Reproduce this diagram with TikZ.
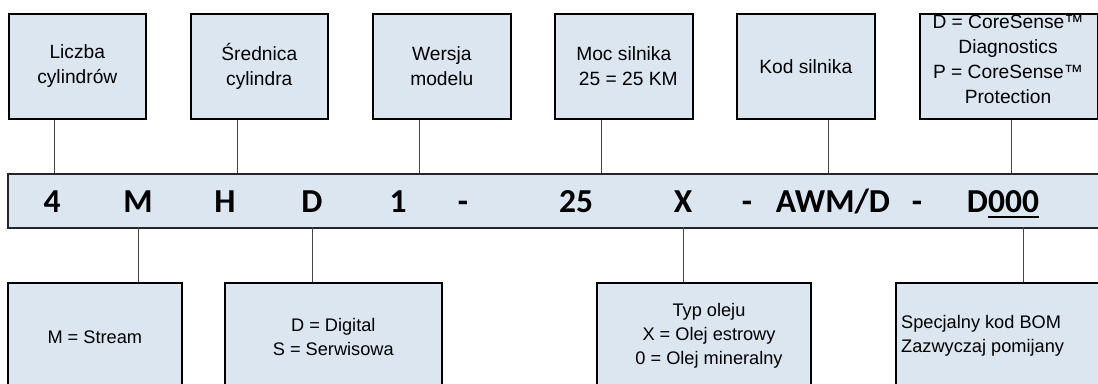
\documentclass[tikz,border=0pt]{standalone}
\usepackage{fontspec}
\setmainfont{Liberation Sans}
\newfontfamily\codefont{Carlito}
\definecolor{boxfill}{RGB}{220,230,241}
\definecolor{linkgray}{RGB}{70,70,70}
% underline drawn a little below the baseline, as in the code strip
\newcommand\codeul[1]{\setbox0\hbox{#1}\rlap{\rule[-5.5pt]{\wd0}{2pt}}\box0}
\tikzset{
  infobox/.style={draw=black, line width=1.6pt, fill=boxfill, inner sep=0pt,
    anchor=north west, align=center},
  toptext/.style={font=\fontsize{19.2}{25}\selectfont},
  bottext/.style={font=\fontsize{18.2}{24}\selectfont},
  strip/.style={draw=black!85, line width=1.6pt, fill=boxfill, inner sep=0pt, anchor=north west},
  code/.style={font=\codefont\bfseries\fontsize{33.5}{36}\selectfont, anchor=base, inner sep=0pt},
  link/.style={draw=linkgray, line width=0.9pt},
}
\begin{document}
\begin{tikzpicture}[x=1pt,y=-1pt]
  \useasboundingbox (0,0) rectangle (1098,383);
  \fill[white] (0,0) rectangle (1098,383);
  \clip (0,0) rectangle (1098,383);

  % code strip
  \node[strip, minimum width=1110pt, minimum height=54pt] (bar) at (7,173) {};
  \node[code] (l4)   at (52,212)   {4};
  \node[code] (lM)   at (138,212)  {M};
  \node[code] (lH)   at (225,212)  {H};
  \node[code] (lD)   at (312,212)  {D};
  \node[code] (l1)   at (398,212)  {1};
  \node[code] (ld1)  at (463,212)  {-};
  \node[code] (l25)  at (576,212)  {25};
  \node[code] (lX)   at (683,212)  {X};
  \node[code] (ld2)  at (747,212)  {-};
  \node[code] (lAWM) at (833,212)  {AWM/D};
  \node[code] (ld3)  at (917,212)  {-};
  \node[code] (lBOM) at (1003,212) {D\codeul{000}};

  % upper description boxes
  \node[infobox, toptext, minimum width=137pt, minimum height=105pt] (t1) at (8,13)   {Liczba\\cylindrów};
  \node[infobox, toptext, minimum width=137pt, minimum height=105pt] (t2) at (190,13) {Średnica\\cylindra};
  \node[infobox, toptext, minimum width=138pt, minimum height=105pt] (t3) at (372,13) {Wersja\\modelu};
  \node[infobox, toptext, minimum width=138pt, minimum height=105pt] (t4) at (554,13) {Moc silnika\\\hspace*{9pt}25 = 25 KM};
  \node[infobox, toptext, minimum width=138pt, minimum height=105pt] (t5) at (736,13) {Kod silnika};
  \node[infobox, minimum width=178pt, minimum height=105pt] (t6) at (919,13) {};
  \node[toptext, align=center, inner sep=0pt] (t6txt) at (1008,59.5)
    {D = CoreSense™\\Diagnostics\\P = CoreSense™\\Protection};

  % lower description boxes
  \node[infobox, bottext, minimum width=174pt, minimum height=108pt] (b1) at (7,282)   {M = Stream};
  \node[infobox, bottext, minimum width=217pt, minimum height=108pt] (b2) at (224,282) {D = Digital\\S = Serwisowa};
  \node[infobox, minimum width=214pt, minimum height=108pt] (b3) at (596,282) {};
  \node[bottext, align=center, inner sep=0pt] (b3txt) at (709,336)
    {Typ oleju\\X = Olej estrowy\\0 = Olej mineralny};
  \node[infobox, minimum width=230pt, minimum height=108pt] (b4) at (895,282) {};
  \node[bottext, align=left, inner sep=0pt, anchor=west] (b4txt) at (901,336)
    {Specjalny kod BOM\\Zazwyczaj pomijany};

  % connector attachment points on the strip
  \coordinate (c1) at (54,173);
  \coordinate (c2) at (237,173);
  \coordinate (c3) at (419,173);
  \coordinate (c4) at (601,173);
  \coordinate (c5) at (828,173);
  \coordinate (c6) at (1011,173);
  \coordinate (d1) at (138,227);
  \coordinate (d2) at (312,227);
  \coordinate (d3) at (683,227);
  \coordinate (d4) at (1023,227);

  \draw[link] (t1.south -| c1) -- (c1);
  \draw[link] (t2.south -| c2) -- (c2);
  \draw[link] (t3.south -| c3) -- (c3);
  \draw[link] (t4.south -| c4) -- (c4);
  \draw[link] (t5.south -| c5) -- (c5);
  \draw[link] (t6.south -| c6) -- (c6);
  \draw[link] (d1) -- (b1.north -| d1);
  \draw[link] (d2) -- (b2.north -| d2);
  \draw[link] (d3) -- (b3.north -| d3);
  \draw[link] (d4) -- (b4.north -| d4);
\end{tikzpicture}
\end{document}
